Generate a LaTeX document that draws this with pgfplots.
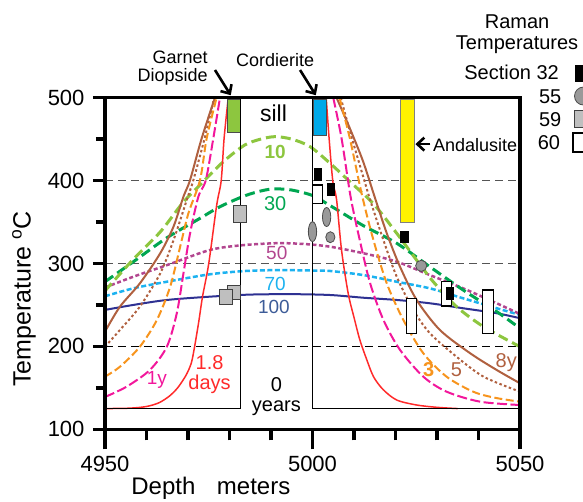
\documentclass[border=0pt]{standalone}
\usepackage{fontspec}
\setmainfont{Liberation Sans}
\usepackage{pgfplots}
\pgfplotsset{compat=1.18}
\usetikzlibrary{arrows.meta}

\definecolor{cRed}{HTML}{FF2A2A}
\definecolor{cPink}{HTML}{F2179B}
\definecolor{cOrange}{HTML}{F7941D}
\definecolor{cBrown}{HTML}{B0603F}
\definecolor{cLime}{HTML}{8DC63F}
\definecolor{cGreen}{HTML}{00A651}
\definecolor{cPurple}{HTML}{B2468F}
\definecolor{cSky}{HTML}{1CB2F0}
\definecolor{cNavy}{HTML}{2E3192}
\definecolor{cNavyText}{HTML}{3D5C98}
\definecolor{cCord}{HTML}{00A9E8}
\definecolor{cAnd}{HTML}{FFF200}
\definecolor{cGrid}{HTML}{555555}

\newcommand{\fs}[1]{\fontsize{#1}{#1}\selectfont}

\pgfplotsset{
  frame/.style={
    at={(0pt,0pt)}, anchor=south west,
    scale only axis, width=415pt, height=331.6pt,
    xmin=4950, xmax=5050, ymin=100, ymax=500,
    axis line style={line width=3.5pt, line cap=rect},
    tick style={line width=3.5pt, black},
    tick align=outside,
    ticklabel style={font=\fs{22}},
  }
}

\begin{document}
\begin{tikzpicture}
\useasboundingbox (-105pt,-72.7pt) rectangle (478pt,429.3pt);

% depth axis: long ticks every 50 m, short ticks every 10 m
\begin{axis}[frame,
  axis x line*=bottom, hide y axis,
  major tick length=20pt, minor tick length=11pt,
  xtick={4950,5000,5050}, xticklabels={4950,5000,5050},
  minor xtick={4960,4970,4980,4990,5010,5020,5030,5040},
  xticklabel shift=3pt,
]
\end{axis}

\begin{axis}[frame,
  clip=false, axis on top,
  xtick=\empty, ytick pos=left,
  major tick length=12pt, minor tick length=9pt,
  ytick={100,200,300,400,500}, yticklabels={100,200,300,400,500},
  minor ytick={150,250,350,450},
  yticklabel shift=5pt,
  every axis plot/.append style={forget plot},
]

% reference temperature lines
\addplot[cGrid, line width=1pt, dash pattern=on 8pt off 5pt] coordinates {(4950,400) (5050,400)};
\addplot[cGrid, line width=1pt, dash pattern=on 8pt off 5pt] coordinates {(4950,300) (5050,300)};
\addplot[black, line width=0.9pt, dash pattern=on 8pt off 5pt] coordinates {(4950,200) (5050,200)};

% 100 years
\addplot[cNavy, line width=2pt, smooth] coordinates {
 (4950,244) (4956.8,250) (4964.9,256) (4975.3,260) (4985,262.5) (4995,263)
 (5004.2,262) (5012.3,258.7) (5020.3,256) (5028.3,252) (5036.3,246) (5044.4,240) (5050,234)};
% 70 years
\addplot[cSky, line width=2.5pt, dash pattern=on 5pt off 2.5pt, smooth] coordinates {
 (4950,260.5) (4956.8,270) (4964.9,278) (4975.3,287) (4984,291) (4992,292) (5000,291.5)
 (5004.2,291) (5012.3,286) (5020.3,278) (5028.3,270) (5036.3,258) (5044.4,246) (5050,238)};
% 50 years
\addplot[cPurple, line width=2.5pt, dash pattern=on 4pt off 2.5pt, smooth] coordinates {
 (4950,271) (4956.8,284) (4964.9,298) (4975.3,316.3) (4983,322) (4991.5,324.5) (4998,323.5)
 (5004.2,320.3) (5012.3,312.3) (5020.3,302.2) (5028.3,286) (5036.3,270) (5044.4,252) (5050,239)};
% 30 years
\addplot[cGreen, line width=3pt, dash pattern=on 10pt off 5pt, smooth] coordinates {
 (4950,278) (4956.8,302) (4964.9,331) (4972.9,354.5) (4977.7,368.5) (4983.7,381.7) (4988,388)
 (4991,390) (4995,388.6) (5000,382) (5004.2,370) (5012.3,345.5) (5020.3,324.4) (5028.3,296)
 (5036.3,268) (5044.4,241.9) (5050,221.8)};
% 10 years
\addplot[cLime, line width=3pt, dash pattern=on 10pt off 5pt, smooth] coordinates {
 (4950,267) (4956.8,305) (4963.3,338) (4968.7,373) (4972.9,394.7) (4975.3,407) (4979,425)
 (4983.7,443) (4987.5,450) (4991,453) (4995,450) (4999.4,441) (5004.2,421) (5009,398.7)
 (5014.7,372) (5020.3,336.4) (5025.1,304) (5029.1,278) (5034.7,248) (5041.2,223.8) (5050,199.6)};
% 8 years
\addplot[cBrown, line width=2pt, smooth] coordinates {
 (4950,217.8) (4953.6,247.9) (4958.4,276) (4963.3,312.3) (4966.5,344.4) (4968.9,380.6)
 (4970.5,400.7) (4973.3,451) (4976.5,500)};
\addplot[cBrown, line width=2pt, smooth] coordinates {
 (5005.8,500) (5009,463) (5012.2,423) (5015,380) (5017.9,336.4) (5021.1,296) (5025.1,256)
 (5030.7,219.8) (5038,191.7) (5044.4,171.5) (5050,155.5)};
% 5 years
\addplot[cBrown, line width=2pt, dash pattern=on 2.5pt off 2.5pt, smooth] coordinates {
 (4950,199.6) (4953.6,219.8) (4958.4,248) (4963.3,288) (4966.5,328) (4969.7,376.6)
 (4971.3,400.7) (4974,451) (4976.3,500)};
\addplot[cBrown, line width=2pt, dash pattern=on 2.5pt off 2.5pt, smooth] coordinates {
 (5006.8,500) (5009.5,451) (5012.5,400) (5013.9,376.6) (5017.1,328) (5020.3,284) (5024.3,244)
 (5028.3,215.8) (5034.7,187.6) (5041.2,163.5) (5050,145.4)};
% 3 years
\addplot[cOrange, line width=2pt, dash pattern=on 8pt off 3.5pt, smooth] coordinates {
 (4950,163.5) (4953.6,175.5) (4958.4,199.6) (4962.5,231.8) (4965.7,272) (4968.1,320)
 (4970.1,360.6) (4972.9,400.7) (4974.5,451) (4976.9,500)};
\addplot[cOrange, line width=2pt, dash pattern=on 8pt off 3.5pt, smooth] coordinates {
 (5006.5,500) (5009,451) (5011.9,383) (5014.7,328) (5017.9,276) (5021.9,231.8) (5026.7,191.7)
 (5032.3,163.5) (5038.7,145.4) (5044,138) (5050,133.3)};
% 1 year
\addplot[cPink, line width=2pt, dash pattern=on 10pt off 3.5pt, smooth] coordinates {
 (4950,139) (4955.2,151.4) (4960.8,171.5) (4964.9,199.6) (4967.3,240) (4968.9,288)
 (4970.5,336.4) (4972.5,380.6) (4974.3,400.7) (4976.1,451) (4977.7,500)};
\addplot[cPink, line width=2pt, dash pattern=on 10pt off 3.5pt, smooth] coordinates {
 (5005,500) (5007,451) (5009.2,380) (5011.4,328) (5013.9,276) (5017.1,231.8) (5021.1,195.7)
 (5026.7,163.5) (5032.3,145.4) (5040.4,133.3) (5050,129.3)};
% 1.8 days
\addplot[cRed, line width=1.5pt, smooth] coordinates {
 (4950,125) (4956,125.5) (4960,127.5) (4963,132) (4965.5,140) (4967.5,150) (4969.5,165)
 (4970.8,180) (4971.6,200) (4972.6,230) (4973.5,260) (4975,300) (4976.9,370) (4978,400)
 (4978.7,451) (4979.7,500)};
\addplot[cRed, line width=1.5pt, smooth] coordinates {
 (5003.3,500) (5004,451) (5004.9,399) (5005.8,377) (5007,316) (5008.6,264) (5010,235)
 (5011.4,208) (5013,185) (5014.7,163.5) (5017,148) (5020.3,135.3) (5025.1,129.3)
 (5030,126.5) (5035,125)};

% mineral zones
\addplot[fill=cLime, draw=black!70, line width=0.8pt] coordinates {
 (4979.5,458) (4982.6,458) (4982.6,498) (4979.5,498)} -- cycle;
\addplot[fill=cCord, draw=black!70, line width=0.8pt] coordinates {
 (5000.2,455) (5003.3,455) (5003.3,498) (5000.2,498)} -- cycle;
\addplot[fill=cAnd, draw=black!50, line width=0.8pt] coordinates {
 (5021.3,349) (5024.5,349) (5024.5,498) (5021.3,498)} -- cycle;

% initial profile (0 years)
\addplot[black, line width=1.5pt] coordinates {(4950,125) (4982.7,125) (4982.7,498)};
\addplot[black, line width=1.5pt] coordinates {(5000,498) (5000,125) (5050,125)};

% Raman temperatures, section 59
\addplot[only marks, mark=square*, mark size=6.35pt,
  mark options={fill=black!25, draw=black!75, line width=1pt, yscale=1.36}] coordinates {(4982.5,360.1)};
\addplot[only marks, mark=square*, mark size=6.35pt,
  mark options={fill=black!25, draw=black!75, line width=1pt, yscale=1.13}] coordinates {(4981.0,265.4)};
\addplot[only marks, mark=square*, mark size=6.35pt,
  mark options={fill=black!25, draw=black!75, line width=1pt, yscale=1.16}] coordinates {(4979.2,260)};
% section 55
\addplot[only marks, mark=*, mark size=4.15pt,
  mark options={fill=black!40, draw=black!70, line width=0.8pt, yscale=2.4}] coordinates {(5000.0,338.4)};
\addplot[only marks, mark=*, mark size=4.15pt,
  mark options={fill=black!40, draw=black!70, line width=0.8pt, yscale=2.3}] coordinates {(5003.4,356.1)};
\addplot[only marks, mark=*, mark size=4.6pt,
  mark options={fill=black!40, draw=black!70, line width=0.8pt, yscale=1.2}] coordinates {(5004.3,331.7)};
\addplot[only marks, mark=*, mark size=5.6pt,
  mark options={fill=black!40, draw=black!70, line width=0.8pt}] coordinates {(5026.2,297.2)};
% section 60
\addplot[only marks, mark=square*, mark size=4.65pt,
  mark options={fill=white, draw=black, line width=1.2pt, yscale=1.97}] coordinates {(5001.2,383.6)};
\addplot[only marks, mark=square*, mark size=5pt,
  mark options={fill=white, draw=black, line width=1.2pt, yscale=3.5}] coordinates {(5023.9,236.9)};
\addplot[only marks, mark=square*, mark size=5.35pt,
  mark options={fill=white, draw=black, line width=1.2pt, yscale=2.27}] coordinates {(5032.3,263.4)};
\addplot[only marks, mark=square*, mark size=5.35pt,
  mark options={fill=white, draw=black, line width=1.2pt, yscale=4.05}] coordinates {(5042.3,241.9)};
% section 32
\addplot[only marks, mark=square*, mark size=3.6pt,
  mark options={fill=black, draw=black, yscale=1.65}] coordinates {
  (5001.2,407.7) (5004.3,389.6) (5022.1,332.3) (5033.1,264.4)};

% legend symbols
\addplot[only marks, mark=square*, mark size=5pt,
  mark options={fill=black, draw=black, yscale=1.65}] coordinates {(5064.6,529.4)};
\addplot[only marks, mark=*, mark size=9pt,
  mark options={fill=black!40, draw=black!70, line width=0.8pt}] coordinates {(5065.3,502)};
\addplot[only marks, mark=square*, mark size=8.5pt,
  mark options={fill=black!25, draw=black!75, line width=1pt}] coordinates {(5065.2,474.9)};
\addplot[only marks, mark=square*, mark size=5.5pt,
  mark options={fill=white, draw=black, line width=1.2pt, yscale=1.73}] coordinates {(5064.1,446)};

% arrows to the mineral zones
\addplot[black, line width=2.6pt, -{Straight Barb[length=7pt,width=13pt,line width=2.6pt]}]
  coordinates {(4976.5,533.4) (4980.3,503)};
\addplot[black, line width=2.6pt, -{Straight Barb[length=7pt,width=13pt,line width=2.6pt]}]
  coordinates {(4997,533.4) (5000.8,503)};
\addplot[black, line width=2.6pt, -{Straight Barb[length=7pt,width=13pt,line width=2.6pt]}]
  coordinates {(5028.4,444) (5024.8,444)};

% annotations
\node[font=\fs{18}, align=right, anchor=east, inner sep=0pt] at (4974.8,535.8)
  {\fontsize{18}{18}\selectfont Garnet\\Diopside};
\node[font=\fs{18}] at (4991,545.5) {Cordierite};
\node[font=\fs{18}, anchor=west, inner sep=0pt] at (5029,443) {Andalusite};
\node[font=\fs{23}] at (4990.6,481) {sill};
\node[font=\bfseries\fs{19}, text=cLime] at (4991,435) {10};
\node[font=\fs{20}, text=cGreen] at (4991,372.6) {30};
\node[font=\fs{19}, text=cPurple] at (4991.4,312.3) {50};
\node[font=\fs{19}, text=cSky] at (4991,275.5) {70};
\node[font=\fs{19}, text=cNavyText] at (4990.7,248) {100};
\node[font=\fs{20}, text=cRed, align=center] at (4975.2,165.5)
  {\fontsize{20}{20}\selectfont 1.8\\days};
\node[font=\fs{20}, align=center] at (4991.3,140)
  {\fontsize{20}{18}\selectfont 0\\years};
\node[font=\fs{19}, text=cPink] at (4962.5,159.5) {1y};
\node[font=\bfseries\fs{20}, text=cOrange] at (5028,171.5) {3};
\node[font=\fs{20}, text=cBrown] at (5034.7,171.5) {5};
\node[font=\fs{20}, text=cBrown] at (5046.7,180) {8y};

% legend text
\node[font=\fs{20}] at (5049.3,591.3) {Raman};
\node[font=\fs{20}] at (5049.3,563.6) {Temperatures};
\node[font=\fs{20}, anchor=east, inner sep=0pt] at (5059.4,531) {Section 32};
\node[font=\fs{20}, anchor=east, inner sep=0pt] at (5060,500.8) {55};
\node[font=\fs{20}, anchor=east, inner sep=0pt] at (5060,474) {59};
\node[font=\fs{20}, anchor=east, inner sep=0pt] at (5059.7,445.5) {60};

% axis titles
\node[font=\fs{25}, rotate=90] at (4930.5,257) {Temperature \textsuperscript{o}C};
\node[font=\fs{24}] at (4975.5,29.2) {Depth\hspace{0.9em}meters};
\end{axis}
\end{tikzpicture}
\end{document}
